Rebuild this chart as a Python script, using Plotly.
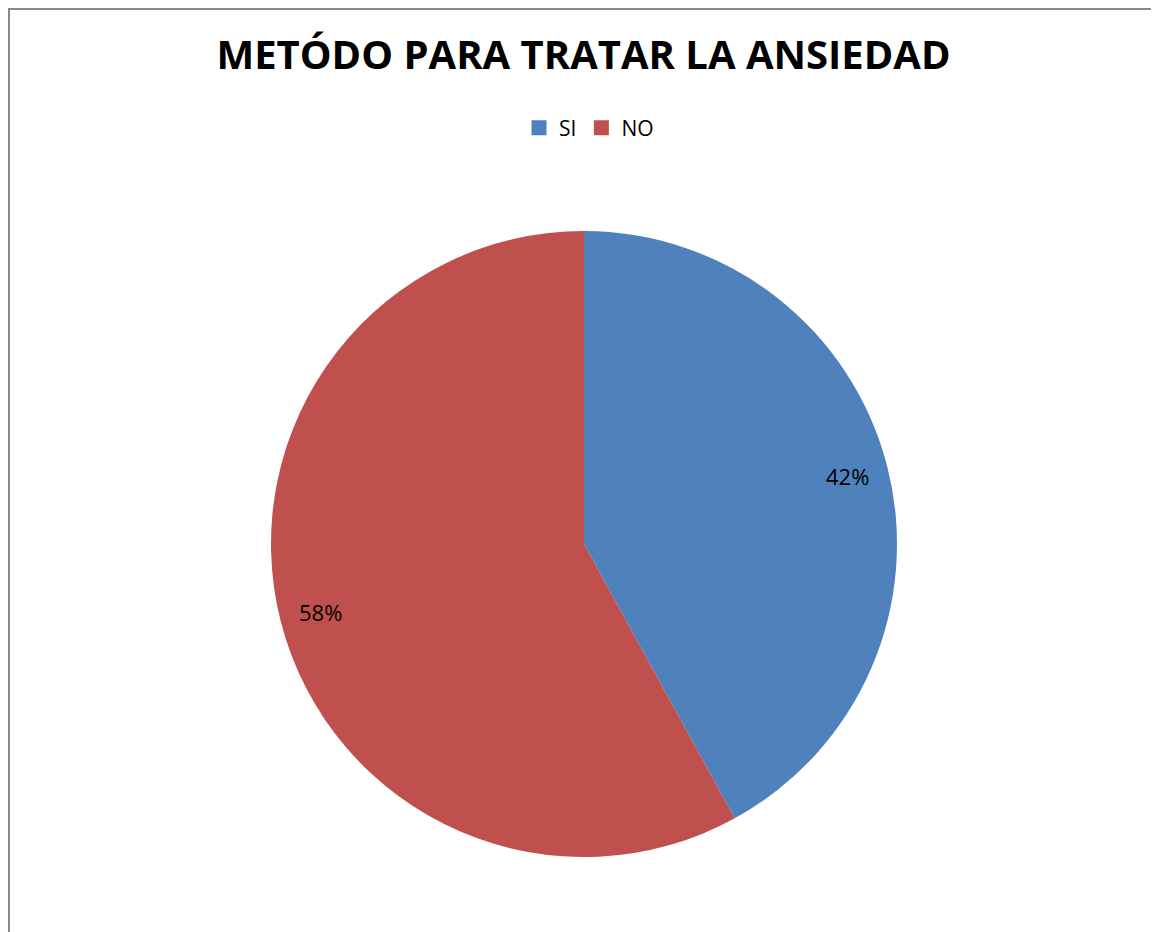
import math
import plotly.graph_objects as go

categories = ["SI", "NO"]
values = [42, 58]
colors = ["#4F81BD", "#C0504D"]
title_text = "METÓDO PARA TRATAR LA ANSIEDAD"

# figure size (page has an 8px body margin)
W, H = 1151, 924
cx, cy, R = 576, 536, 313

fig = go.Figure()
fig.add_trace(go.Pie(
    labels=categories, values=values, sort=False, direction="clockwise", rotation=0,
    marker=dict(colors=colors, line=dict(width=0)),
    textinfo="none", hoverinfo="label+percent", showlegend=False,
    domain=dict(x=[(cx - R) / W, (cx + R) / W], y=[1 - (cy + R) / H, 1 - (cy - R) / H]),
))
# legend entries (square swatches) from the same categories/colours
for cat, col in zip(categories, colors):
    fig.add_trace(go.Scatter(x=[None], y=[None], mode="markers", name=cat,
                             marker=dict(symbol="square", size=15, color=col)))

# percentage labels placed at slice mid-angles
total = sum(values)
cum = 0
annotations = []
for v in values:
    mid = (cum + v / 2) / total * 2 * math.pi
    cum += v
    r = 0.87 * R
    px = cx + r * math.sin(mid)
    py = cy - r * math.cos(mid)
    annotations.append(dict(x=px / W, y=1 - py / H, xref="paper", yref="paper",
                            xanchor="center", yanchor="middle",
                            text=f"{round(v / total * 100)}%", showarrow=False,
                            font=dict(size=22, color="black", family="Open Sans")))

fig.update_layout(
    width=W, height=H,
    margin=dict(l=0, r=0, t=0, b=0),
    paper_bgcolor="white", plot_bgcolor="white",
    xaxis=dict(visible=False), yaxis=dict(visible=False),
    title=dict(text=f"<b>{title_text}</b>", x=0.5, xanchor="center",
               y=1 - 47 / H, yanchor="middle",
               font=dict(size=40, family="Open Sans", color="black")),
    legend=dict(orientation="h", x=581 / W, xanchor="center", y=1 - 120 / H, yanchor="middle",
                font=dict(size=21, family="Open Sans", color="black"), itemwidth=30,
                bgcolor="rgba(0,0,0,0)"),
    annotations=annotations,
    shapes=[
        dict(type="line", xref="paper", yref="paper", x0=0, x1=1, y0=1 - 1 / H, y1=1 - 1 / H,
             line=dict(color="#888888", width=2)),
        dict(type="line", xref="paper", yref="paper", x0=1 / W, x1=1 / W, y0=0, y1=1,
             line=dict(color="#888888", width=2)),
    ],
)

fig.write_html("out.html")
